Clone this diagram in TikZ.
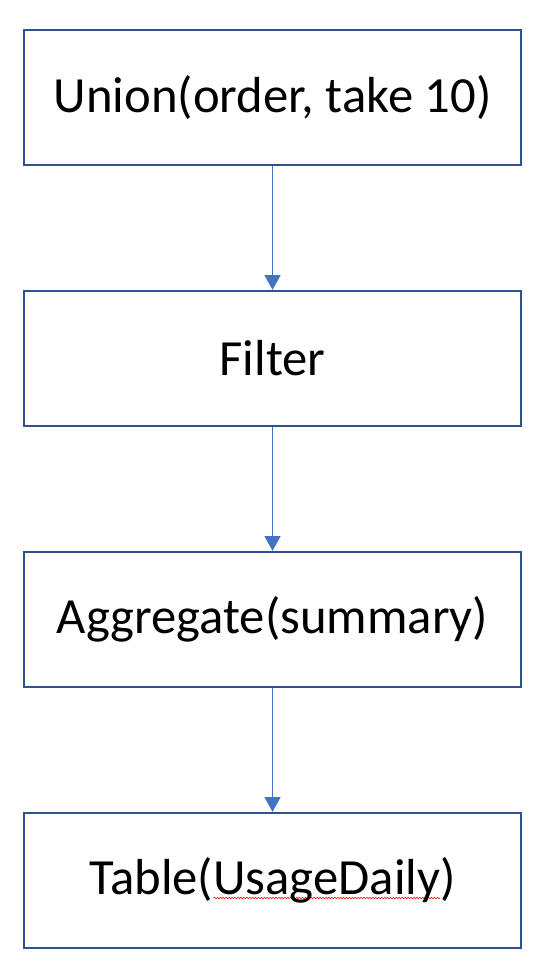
\documentclass[tikz,border=0pt]{standalone}
\usepackage{fontspec}
\setmainfont{Carlito}
\definecolor{BoxBlue}{HTML}{2F528F}
\definecolor{ArrowBlue}{HTML}{4472C4}
\usetikzlibrary{arrows.meta, positioning, decorations.pathmorphing}
\tikzset{
  % Box styles
  stepbox/.style={rectangle, draw=BoxBlue, line width=1.7pt, fill=white, minimum width=372.75pt, minimum height=101.25pt, font=\fontsize{38}{46}\selectfont, align=center, inner sep=0pt},
  % Arrow styles
  arrow/.style={-{Triangle[width=12pt,length=11pt]}, line width=0.75pt, ArrowBlue},
  % Spell check wave
  wave/.style={red, line width=0.4pt, decorate, decoration={snake, amplitude=0.6pt, segment length=2.2pt}}
}
\newsavebox{\spellbox}
\newcommand{\spellwave}[1]{\sbox{\spellbox}{#1}\rlap{\tikz[baseline=0pt]\draw[wave] (0,-2.5pt) -- (\wd\spellbox,-2.5pt);}\usebox{\spellbox}}
\begin{document}
\begin{tikzpicture}[node distance=92.8pt]
  \useasboundingbox (0,0) rectangle (407.25pt,-727.5pt);

  % Steps
  \node[stepbox] (union) at (204.4pt,-73.1pt) {Union(order, take 10)};
  \node[stepbox, below=of union] (filter) {Filter};
  \node[stepbox, below=of filter] (aggregate) {Aggregate(summary)};
  \node[stepbox, below=of aggregate] (table) {Table(\spellwave{UsageDaily})};

  % Arrows
  \draw[arrow] (union) -- (filter);
  \draw[arrow] (filter) -- (aggregate);
  \draw[arrow] (aggregate) -- (table);
\end{tikzpicture}
\end{document}
